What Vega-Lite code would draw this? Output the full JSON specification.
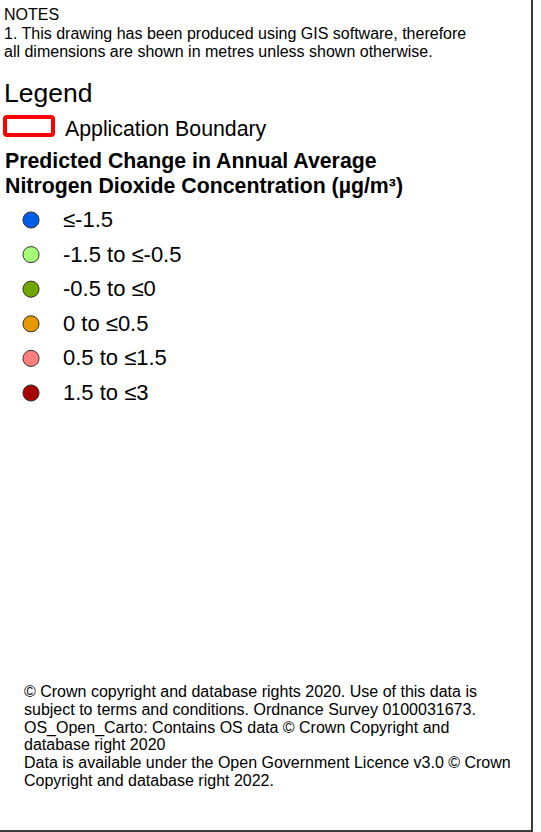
{
  "$schema": "https://vega.github.io/schema/vega-lite/v6.json",
  "width": 541,
  "height": 832,
  "autosize": "none",
  "padding": 0,
  "background": "white",
  "config": {"view": {"stroke": null}, "font": "Liberation Sans"},
  "layer": [
    {
      "data": {"values": [{"item": "frame"}]},
      "mark": {"type": "rect", "fill": null, "stroke": "#3a3a3a", "strokeWidth": 2},
      "encoding": {"x": {"value": -3}, "x2": {"value": 532}, "y": {"value": -3}, "y2": {"value": 831}}
    },
    {
      "data": {"values": [
        {"line": 1, "text": "NOTES"},
        {"line": 2, "text": "1. This drawing has been produced using GIS software, therefore"},
        {"line": 3, "text": "all dimensions are shown in metres unless shown otherwise."}
      ]},
      "mark": {"type": "text", "align": "left", "baseline": "alphabetic", "fontSize": 16, "font": "Liberation Sans", "color": "#000"},
      "encoding": {
        "x": {"value": 4},
        "y": {"field": "line", "type": "ordinal", "scale": {"type": "point", "range": [20, 57], "padding": 0}, "axis": null},
        "text": {"field": "text"}
      }
    },
    {
      "data": {"values": [{"line": 1, "text": "Legend"}]},
      "mark": {"type": "text", "align": "left", "baseline": "alphabetic", "fontSize": 26.5, "font": "Liberation Sans", "color": "#000"},
      "encoding": {"x": {"value": 4}, "y": {"value": 102}, "text": {"field": "text"}}
    },
    {
      "data": {"values": [{"label": "Application Boundary"}]},
      "mark": {"type": "rect", "fill": null, "stroke": "#FF0000", "strokeWidth": 4, "cornerRadius": 2},
      "encoding": {"x": {"value": 5}, "x2": {"value": 53}, "y": {"value": 117}, "y2": {"value": 135}}
    },
    {
      "data": {"values": [{"label": "Application Boundary"}]},
      "mark": {"type": "text", "align": "left", "baseline": "alphabetic", "fontSize": 21.3, "font": "Liberation Sans", "color": "#000"},
      "encoding": {"x": {"value": 65}, "y": {"value": 136}, "text": {"field": "label"}}
    },
    {
      "data": {"values": [
        {"line": 1, "text": "Predicted Change in Annual Average"},
        {"line": 2, "text": "Nitrogen Dioxide Concentration (µg/m³)"}
      ]},
      "mark": {"type": "text", "align": "left", "baseline": "alphabetic", "fontSize": 21.3, "fontWeight": "bold", "font": "Liberation Sans", "color": "#000"},
      "encoding": {
        "x": {"value": 5},
        "y": {"field": "line", "type": "ordinal", "scale": {"type": "point", "range": [168, 193], "padding": 0}, "axis": null},
        "text": {"field": "text"}
      }
    },
    {
      "data": {"values": [
        {"class": "≤-1.5"},
        {"class": "-1.5 to ≤-0.5"},
        {"class": "-0.5 to ≤0"},
        {"class": "0 to ≤0.5"},
        {"class": "0.5 to ≤1.5"},
        {"class": "1.5 to ≤3"}
      ]},
      "layer": [
        {
          "mark": {"type": "point", "shape": "circle", "filled": true, "size": 260, "stroke": "#333333", "strokeWidth": 1, "opacity": 1},
          "encoding": {
            "x": {"value": 31},
            "y": {"field": "class", "type": "ordinal", "sort": null, "scale": {"type": "point", "range": [220, 393], "padding": 0}, "axis": null},
            "fill": {"field": "class", "type": "nominal", "sort": null, "legend": null,
              "scale": {"domain": ["≤-1.5", "-1.5 to ≤-0.5", "-0.5 to ≤0", "0 to ≤0.5", "0.5 to ≤1.5", "1.5 to ≤3"],
                        "range": ["#005CE6", "#A3FF73", "#70A800", "#E69800", "#FF7F7F", "#A80000"]}}
          }
        },
        {
          "mark": {"type": "text", "align": "left", "baseline": "middle", "fontSize": 22, "font": "Liberation Sans", "color": "#000"},
          "encoding": {
            "x": {"value": 63},
            "y": {"field": "class", "type": "ordinal", "sort": null, "scale": {"type": "point", "range": [221, 394], "padding": 0}, "axis": null},
            "text": {"field": "class"}
          }
        }
      ]
    },
    {
      "data": {"values": [
        {"line": 1, "text": "© Crown copyright and database rights 2020. Use of this data is"},
        {"line": 2, "text": "subject to terms and conditions. Ordnance Survey 0100031673."},
        {"line": 3, "text": "OS_Open_Carto: Contains OS data © Crown Copyright and"},
        {"line": 4, "text": "database right 2020"},
        {"line": 5, "text": "Data is available under the Open Government Licence v3.0 © Crown"},
        {"line": 6, "text": "Copyright and database right 2022."}
      ]},
      "mark": {"type": "text", "align": "left", "baseline": "middle", "fontSize": 16, "font": "Liberation Sans", "color": "#000"},
      "encoding": {
        "x": {"value": 24},
        "y": {"field": "line", "type": "ordinal", "scale": {"type": "point", "range": [692, 781], "padding": 0}, "axis": null},
        "text": {"field": "text"}
      }
    }
  ],
  "resolve": {"scale": {"y": "independent", "fill": "independent"}}
}
